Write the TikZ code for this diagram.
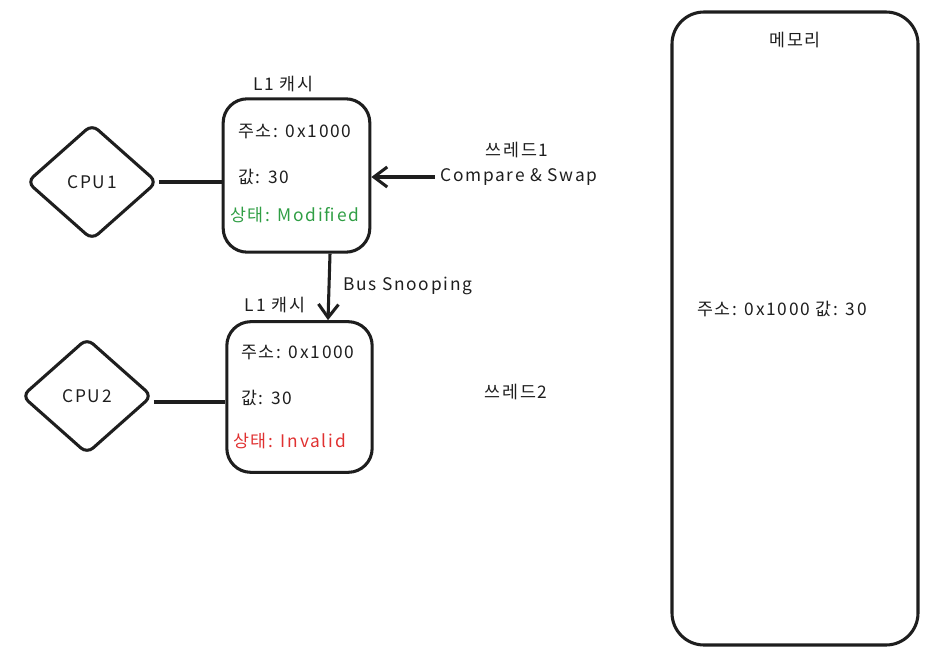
\documentclass[tikz,border=0pt]{standalone}
\usepackage{fontspec}
\setmainfont[LetterSpace=10]{Noto Sans CJK KR}
\usetikzlibrary{shapes.geometric,arrows.meta}
\definecolor{okgreen}{HTML}{2F9E44}
\definecolor{badred}{HTML}{E03131}
\definecolor{ink}{HTML}{1E1E1E}
\begin{document}
\begin{tikzpicture}[x=0.75pt,y=-0.75pt,
  every node/.style={font=\fontsize{13}{15}\selectfont, text=ink},
  cpubox/.style={draw=ink, line width=2.3pt, diamond, minimum width=98pt, minimum height=87pt, inner sep=0pt, rounded corners=6pt},
  cachebox/.style={draw=ink, line width=2.3pt, rounded corners=18pt},
  conn/.style={draw=ink, line width=2.3pt},
  arr/.style={conn, -{Straight Barb[length=10pt,width=15pt,line width=2.3pt]}},
  txt/.style={anchor=west, inner sep=0pt}
]
\useasboundingbox (0,0) rectangle (931,657);

% CPUs
\node[cpubox] (cpu1) at (92,182) {CPU1};
\node[cpubox] (cpu2) at (87,396) {CPU2};

% Cache 1
\node[cachebox, minimum width=110pt, minimum height=115pt] (c1) at (296.5,175.5) {};
\node[inner sep=0pt] (c1lbl) at (283,84) {L1 캐시};
\node[txt] (c1a) at (238,131) {주소: 0x1000};
\node[txt] (c1b) at (238,177) {값: 30};
\node[txt, text=okgreen] (c1c) at (230,215) {상태: Modified};

% Cache 2
\node[cachebox, minimum width=109pt, minimum height=113pt] (c2) at (299.5,397) {};
\node[inner sep=0pt] (c2lbl) at (275,305) {L1 캐시};
\node[txt] (c2a) at (241,352) {주소: 0x1000};
\node[txt] (c2b) at (241,398) {값: 30};
\node[txt, text=badred] (c2c) at (233,441) {상태: Invalid};

% Memory
\node[cachebox, rounded corners=24pt, minimum width=184.5pt, minimum height=474.75pt] (mem) at (795,328.5) {};
\node[inner sep=0pt] (memlbl) at (795,40) {메모리};
\node[inner sep=0pt] (memtxt) at (782,309) {주소: 0x1000 값: 30};

% Thread labels
\node[inner sep=0pt] (t1) at (517,150) {쓰레드1};
\node[txt] (cas) at (440,177) {Compare \& Swap};
\node[inner sep=0pt] (t2) at (516,392) {쓰레드2};
\node[txt] (bus) at (343,286) {Bus Snooping};

% connectors
\draw[conn] (cpu1.east) -- (c1.west |- cpu1.east);
\draw[conn] (cpu2.east |- 0,402) -- (c2.west |- 0,402);
\draw[arr] ([xshift=-4pt]cas.west) -- (c1.east |- cas.west);
\draw[arr] (c1.south -| 330,0) -- (c2.north -| 328,0);
\end{tikzpicture}
\end{document}
